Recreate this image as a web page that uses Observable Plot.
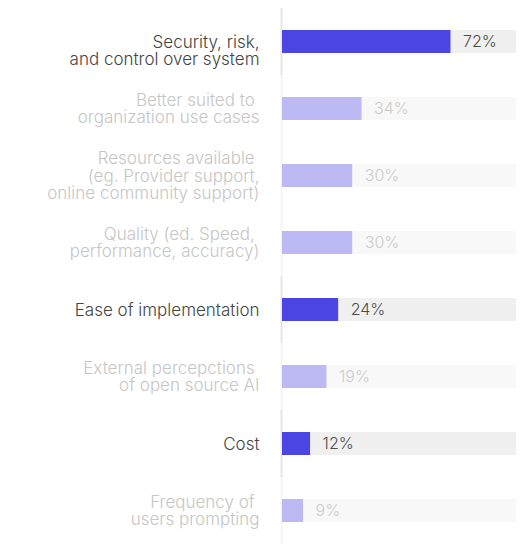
<!DOCTYPE html>
<html><head><meta charset="utf-8">
<script src="https://cdn.jsdelivr.net/npm/d3@7"></script>
<script src="https://cdn.jsdelivr.net/npm/@observablehq/plot@0.6"></script>
<style>
html,body{margin:0;padding:0;background:#fff;}
svg text{white-space:pre;}
</style></head><body><div id="chart"></div>
<script>
const labels = [
  "Security, risk,\nand control over system",
  "Better suited to \norganization use cases",
  "Resources available \n(eg. Provider support,\nonline community support)",
  "Quality (ed. Speed, \nperformance, accuracy)",
  "Ease of implementation",
  "External percepctions \nof open source AI",
  "Cost",
  "Frequency of \nusers prompting"
];
const values = [72, 34, 30, 30, 24, 19, 12, 9];
const highlighted = [true, false, false, false, true, false, true, false];
const valueLabels = ["72%", "34%", "30%", "30%", "24%", "19%", "12%", "9%"];

const data = labels.map((label, i) => ({label, value: values[i], hi: highlighted[i], text: valueLabels[i], i}));
const dark = "#4b45e4", light = "#bdbaf3";
const labelFill = d => d.hi ? "#444444" : "#c6c6c6";

const chart = Plot.plot({
  width: 527, height: 546,
  marginTop: 7, marginBottom: 1, marginLeft: 282, marginRight: 11,
  style: {fontFamily: "Inter, sans-serif", fontSize: "17px", fontWeight: 300, background: "#fff"},
  x: {domain: [0, 100], axis: null},
  y: {domain: labels, axis: null, paddingInner: 0.65, paddingOuter: 0.325},
  color: {type: "identity"},
  marks: [
    Plot.tickX(data, {x: 0, y: "label", dx: -1, strokeWidth: 2, insetTop: -22, insetBottom: -22,
      stroke: d => d.hi ? "#e6e6e6" : "#f5f5f5"}),
    Plot.barX(data, {x1: 0, x2: 100, y: "label", fill: d => d.hi ? "#f0f0f0" : "#f8f8f8"}),
    Plot.barX(data, {x: "value", y: "label", fill: d => d.hi ? dark : light}),
    Plot.text(data, {x: "value", y: "label", text: "text", textAnchor: "start", dx: 12, fontSize: 16,
      fill: d => d.hi ? "#4d4d4d" : "#cccccc"}),
    Plot.text(data.filter(d => d.i !== 0), {x: 0, y: "label", text: "label", textAnchor: "end",
      dx: -23, lineHeight: 1.03, fill: labelFill}),
    Plot.text(data.filter(d => d.i === 0), {x: 0, y: "label", text: "label", textAnchor: "end",
      dx: -23, dy: 9, lineHeight: 1.03, fill: labelFill})
  ]
});
document.getElementById("chart").appendChild(chart);
</script></body></html>
